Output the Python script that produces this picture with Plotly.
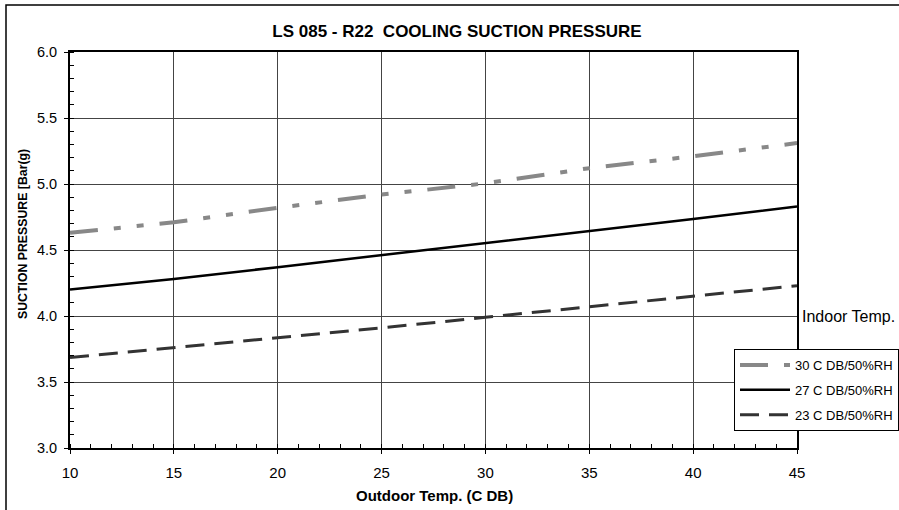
import plotly.graph_objects as go

outdoor_temp = [10, 15, 20, 25, 30, 35, 40, 45]
p_30c = [4.63, 4.71, 4.82, 4.92, 5.005, 5.12, 5.21, 5.31]
p_27c = [4.20, 4.28, 4.37, 4.46, 4.55, 4.64, 4.735, 4.83]
p_23c = [3.685, 3.76, 3.83, 3.91, 3.99, 4.07, 4.15, 4.23]

names = ["30 C DB/50%RH", "27 C DB/50%RH", "23 C DB/50%RH"]

fig = go.Figure()
fig.add_trace(go.Scatter(x=outdoor_temp, y=p_30c, mode="lines", name=names[0], legendgroup="a",
                         line=dict(color="#888888", width=4, dash="28px,16px,7px,16px,7px,16px")))
fig.add_trace(go.Scatter(x=outdoor_temp, y=p_27c, mode="lines", name=names[1], legendgroup="b",
                         line=dict(color="#000000", width=2.5)))
fig.add_trace(go.Scatter(x=outdoor_temp, y=p_23c, mode="lines", name=names[2], legendgroup="c",
                         line=dict(color="#333333", width=3, dash="19px,10px")))

W, H = 899, 510
L, R, T, B = 70, 797, 52, 448
pw, ph = R - L, B - T

fig.update_layout(
    width=W, height=H,
    margin=dict(l=L, r=W - R, t=T, b=H - B, autoexpand=False),
    paper_bgcolor="white", plot_bgcolor="white",
    font=dict(family="Arial, Liberation Sans, sans-serif", color="black", size=12),
    title=dict(text="<b>LS 085 - R22  COOLING SUCTION PRESSURE</b>",
               x=457 / W, xanchor="center", y=1 - 31 / H, yanchor="middle",
               font=dict(size=17, color="black")),
    showlegend=True,
    legend=dict(x=(734 - L) / pw, xanchor="left", y=(B - 349) / ph, yanchor="top",
                bgcolor="white", bordercolor="black", borderwidth=1,
                font=dict(size=13, color="black"), itemwidth=50,
                traceorder="grouped", tracegroupgap=5),
    xaxis=dict(range=[10, 45], dtick=5, tick0=10, showgrid=True, gridcolor="#444444", gridwidth=1,
               showline=True, linecolor="black", linewidth=2, mirror=True,
               ticks="outside", ticklen=4, tickcolor="black", zeroline=False,
               tickfont=dict(size=15), ticklabelstandoff=6,
               minor=dict(dtick=1, ticks="inside", ticklen=4, tickcolor="black", showgrid=False)),
    yaxis=dict(range=[3.0, 6.0], dtick=0.5, tick0=3.0, tickformat=".1f", showgrid=True,
               gridcolor="#444444", gridwidth=1,
               showline=True, linecolor="black", linewidth=2, mirror=True,
               ticks="outside", ticklen=4, tickcolor="black", zeroline=False,
               tickfont=dict(size=14.5), ticklabelstandoff=4,
               minor=dict(dtick=0.1, ticks="inside", ticklen=4, tickcolor="black", showgrid=False)),
    shapes=[dict(type="rect", xref="paper", yref="paper",
                 x0=(6 - L) / pw, x1=(W + 20 - L) / pw,
                 y0=(B - (H + 20)) / ph, y1=(B - 5) / ph,
                 line=dict(color="black", width=1.5), fillcolor="rgba(0,0,0,0)", layer="below")],
    annotations=[
        dict(text="Indoor Temp.", xref="paper", yref="y", x=(800 - L) / pw, y=4.0,
             xanchor="left", yanchor="middle", showarrow=False,
             font=dict(size=16, color="black")),
        dict(text="<b>SUCTION PRESSURE [Bar(g)</b>", xref="paper", yref="paper",
             x=(23 - L) / pw, y=(B - 234) / ph, xanchor="center", yanchor="middle",
             textangle=-90, showarrow=False, font=dict(size=12.3, color="black")),
        dict(text="<b>Outdoor Temp. (C DB)</b>", xref="paper", yref="paper",
             x=(434 - L) / pw, y=(B - 496) / ph, xanchor="center", yanchor="middle",
             showarrow=False, font=dict(size=15, color="black")),
    ],
)

fig.write_html("out.html", config={"displayModeBar": False},
               post_script="document.body.style.margin='0';document.body.style.overflow='hidden';")
